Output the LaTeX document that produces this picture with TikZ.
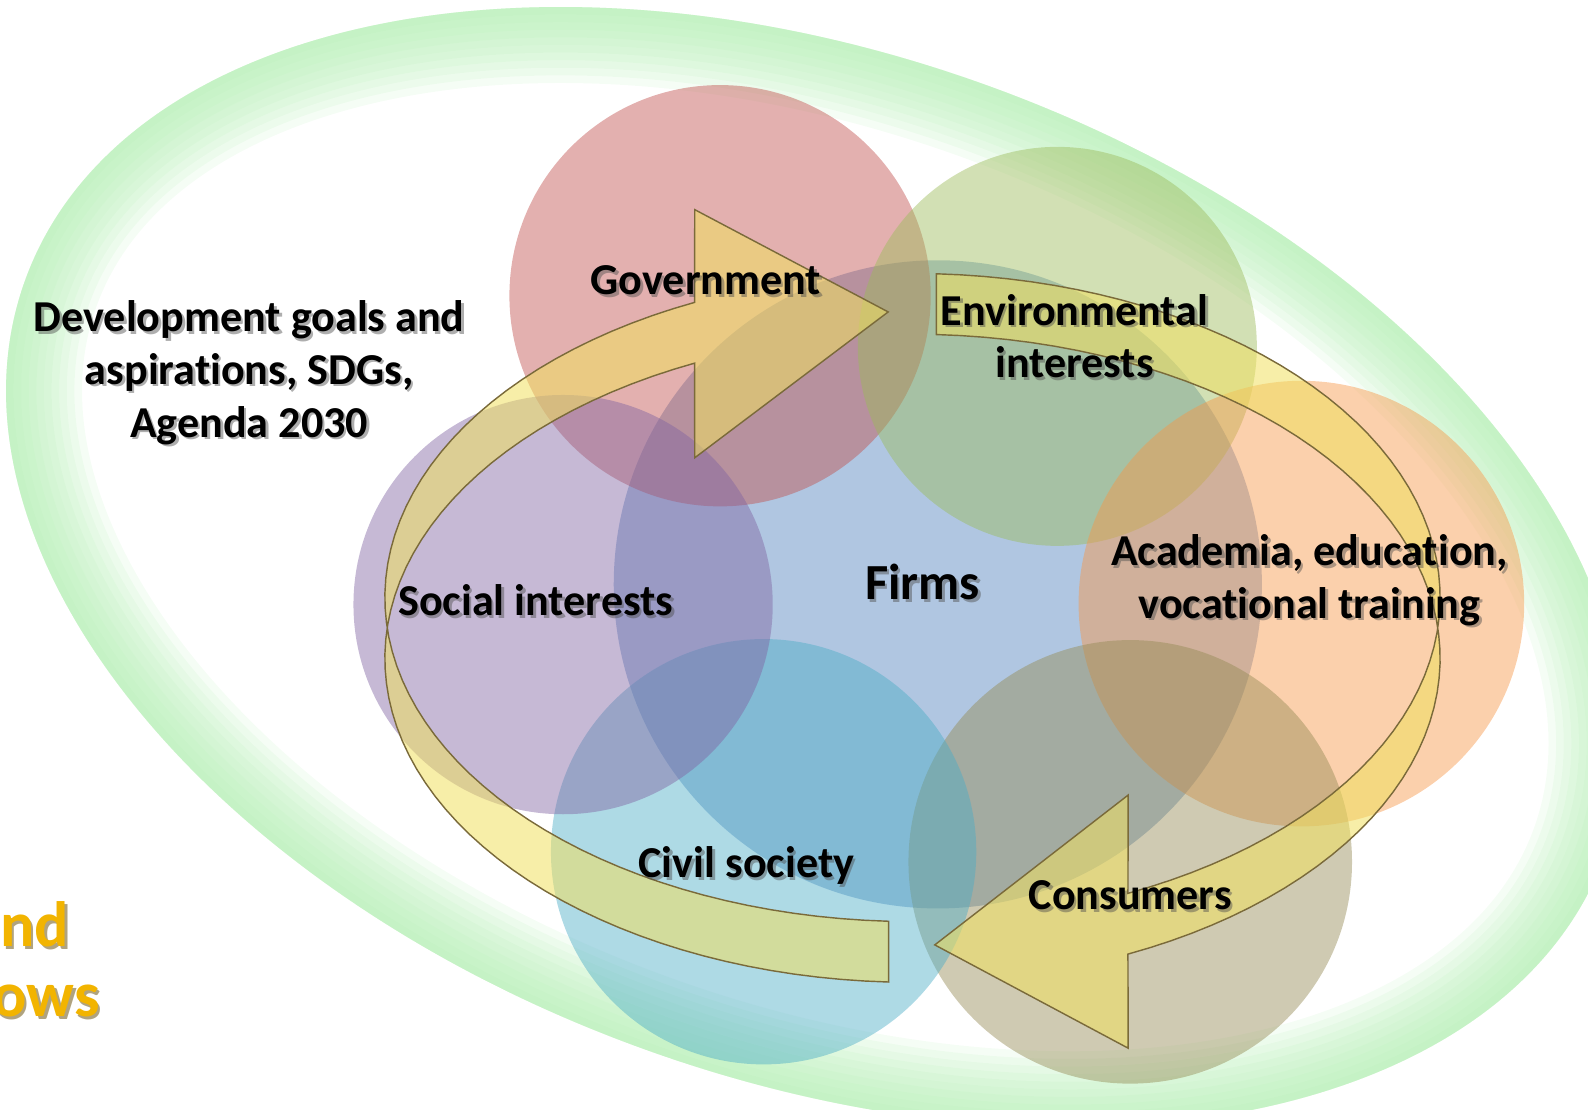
\documentclass[tikz,border=0pt]{standalone}
\usepackage{fontspec}
\setmainfont[Ligatures=NoCommon]{Carlito}
\definecolor{gov}{HTML}{C0504D}
\definecolor{env}{HTML}{9BBB59}
\definecolor{acad}{HTML}{F79646}
\definecolor{cons}{HTML}{948A54}
\definecolor{civil}{HTML}{4BACC6}
\definecolor{social}{HTML}{8064A2}
\definecolor{firm}{HTML}{4F81BD}
\definecolor{glow}{HTML}{B2EEB2}
\definecolor{flow}{HTML}{F0E060}
\definecolor{flowline}{HTML}{7A6A3A}
\definecolor{gold}{HTML}{F2B400}
\tikzset{
  disc/.style={fill=#1, fill opacity=0.45},
  ring/.style={fill=flow, fill opacity=0.55, draw=flowline, line width=0.4pt},
  lab/.style={font=\fontsize{12.4}{14.8}\selectfont\bfseries, align=center, text=black},
  labshadow/.style={lab, text=black!70, text opacity=0.45, xshift=0.25mm, yshift=-0.25mm},
  big/.style={font=\fontsize{18}{21}\selectfont\bfseries, text=gold, anchor=base east, inner sep=0pt},
  bigshadow/.style={big, text=black!60!gold, text opacity=0.5, xshift=0.25mm, yshift=-0.25mm},
}
\newcommand{\lbl}[3]{%
  \node[labshadow] at (#2) {#3};
  \node[lab] (#1) at (#2) {#3};
}

\begin{document}
\begin{tikzpicture}[x=0.1mm, y=-0.1mm]
  \useasboundingbox (0,0) rectangle (1568,1096);
  \clip (0,0) rectangle (1568,1096);

  % soft green rim
  \begin{scope}[shift={(805,560)}, rotate=-20]
    \clip (0,0) ellipse [x radius=83mm, y radius=50.5mm];
    \foreach \w [evaluate=\w as \lw using \w*1.5] in {1,...,10}
      \draw[glow, opacity=0.13, line width=\lw mm] (0,0) ellipse [x radius=83mm, y radius=50.5mm];
  \end{scope}

  % stakeholder circles
  \fill[disc=firm]   (926,577)  circle [radius=32mm];
  \fill[disc=gov]    (711,292)  circle [radius=20.8mm];
  \fill[disc=env]    (1044,342) circle [radius=19.7mm];
  \fill[disc=acad]   (1285,596) circle [radius=22mm];
  \fill[disc=cons]   (1116,851) circle [radius=21.9mm];
  \fill[disc=civil]  (754,841)  circle [radius=21mm];
  \fill[disc=social] (556,597)  circle [radius=20.7mm];

  % cycle arrows
  \draw[ring] plot[domain=92.6:245.6, samples=60, variable=\t] ({901+521*cos(\t)}, {590+320*sin(\t)})
    -- (686,207) -- (877,308) -- (686,452)
    -- plot[domain=245.6:92.6, samples=60, variable=\t] ({901+521*cos(\t)}, {650+320*sin(\t)}) -- cycle;
  \draw[ring] plot[domain=-87.4:65.9, samples=60, variable=\t] ({901+521*cos(\t)}, {590+320*sin(\t)})
    -- (1114,785) -- (923,933) -- (1114,1035)
    -- plot[domain=65.9:-87.4, samples=60, variable=\t] ({901+521*cos(\t)}, {650+320*sin(\t)}) -- cycle;

  \lbl{govt}{697,277}{Government}
  \lbl{envi}{1061,332}{Environmental\\interests}
  \lbl{devt}{246,368}{Development goals and\\aspirations, SDGs,\\Agenda 2030}
  \lbl{firms}{911,575}{\fontsize{14.2}{17}\selectfont Firms}
  \lbl{soci}{529,593}{Social interests}
  \lbl{acad}{1293,573}{Academia, education,\\vocational training}
  \lbl{civ}{737,855}{Civil society}
  \lbl{cons}{1116,884}{Consumers}

  \node[bigshadow] at (69,935) {nd};
  \node[big] (nd) at (69,935) {nd};
  \node[bigshadow] at (99,1004) {ows};
  \node[big] (ows) at (99,1004) {ows};
\end{tikzpicture}
\end{document}
